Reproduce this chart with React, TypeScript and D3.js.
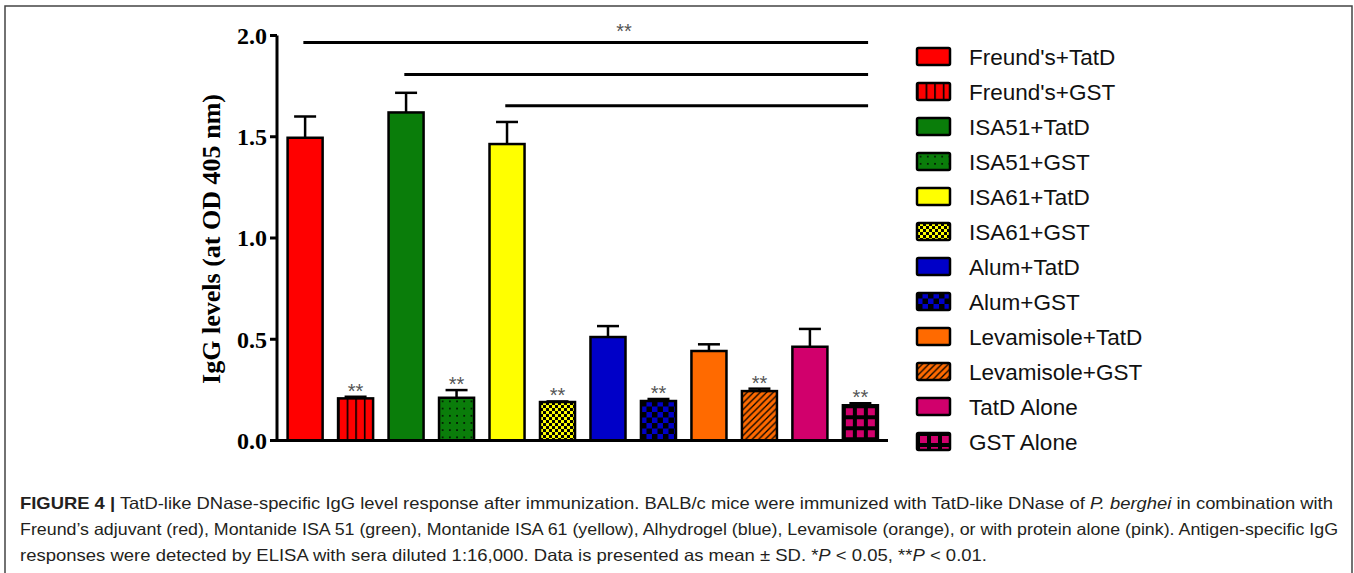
import React, { useEffect } from 'react';
import * as d3 from 'd3';

// groups in plotting order
const groups = [
  "Freund's+TatD", "Freund's+GST",
  'ISA51+TatD', 'ISA51+GST',
  'ISA61+TatD', 'ISA61+GST',
  'Alum+TatD', 'Alum+GST',
  'Levamisole+TatD', 'Levamisole+GST',
  'TatD Alone', 'GST Alone',
];
const means = [1.495, 0.208, 1.62, 0.211, 1.464, 0.19, 0.511, 0.195, 0.442, 0.244, 0.463, 0.174];
const sds = [0.105, 0.008, 0.097, 0.038, 0.109, 0.003, 0.054, 0.01, 0.033, 0.012, 0.088, 0.01];
const stars = ['', '**', '', '**', '', '**', '', '**', '', '**', '', '**'];
const colors = ['#ff0000', '#ff0000', '#0a7d0a', '#0a7d0a', '#ffff00', '#ffff00', '#0000c8', '#0000c8', '#ff6a00', '#ff6a00', '#d1006c', '#d1006c'];
const fills = ['solid', 'vlines', 'solid', 'dots', 'solid', 'finecheck', 'solid', 'check', 'solid', 'diag', 'solid', 'grid'];
const yTicks = [0, 0.5, 1.0, 1.5, 2.0];
// significance brackets: from bar index to bar index, at value
const sigLines = [
  { from: 0, to: 11, y: 1.965 },
  { from: 2, to: 11, y: 1.808 },
  { from: 4, to: 11, y: 1.653 },
];

const W = 1354;
const H = 573;

const x = d3.scaleBand<string>()
  .domain(groups)
  .range([277.5, 888])
  .paddingInner(0.306)
  .paddingOuter(0.2);
const y = d3.scaleLinear().domain([0, 2]).range([440.5, 35.5]);

const pattern = (kind: string, id: string, color: string, x0: number, y0: number) => {
  if (kind === 'vlines') {
    return (
      <pattern id={id} key={id} patternUnits="userSpaceOnUse" x={x0} y={y0} width={8.6} height={10}>
        <rect width={8.6} height={10} fill={color} />
        <rect width={1.6} height={10} fill="#000" />
      </pattern>
    );
  }
  if (kind === 'dots') {
    return (
      <pattern id={id} key={id} patternUnits="userSpaceOnUse" x={x0} y={y0} width={7.2} height={7.2}>
        <rect width={7.2} height={7.2} fill={color} />
        <circle cx={3.6} cy={3.6} r={0.9} fill="#000" />
      </pattern>
    );
  }
  if (kind === 'finecheck' || kind === 'check') {
    const c = kind === 'finecheck' ? 3 : 5.5;
    return (
      <pattern id={id} key={id} patternUnits="userSpaceOnUse" x={x0} y={y0} width={c * 2} height={c * 2}>
        <rect width={c * 2} height={c * 2} fill={color} />
        <rect width={c} height={c} fill="#000" />
        <rect x={c} y={c} width={c} height={c} fill="#000" />
      </pattern>
    );
  }
  if (kind === 'diag') {
    const s = 6.5;
    return (
      <pattern id={id} key={id} patternUnits="userSpaceOnUse" x={x0} y={y0} width={s} height={s}>
        <rect width={s} height={s} fill={color} />
        <path d={`M0,${s} L${s},0 M-1,1 L1,-1 M${s - 1},${s + 1} L${s + 1},${s - 1}`} stroke="#000" strokeWidth={1.3} />
      </pattern>
    );
  }
  // grid
  return (
    <pattern id={id} key={id} patternUnits="userSpaceOnUse" x={x0} y={y0} width={11} height={11}>
      <rect width={11} height={11} fill="#000" />
      <rect x={3} y={3} width={7} height={7} fill={color} />
    </pattern>
  );
};

const App = () => {
  useEffect(() => {
    document.body.style.margin = '0';
  }, []);

  const bw = x.bandwidth();
  const legendX = 917;
  const legendY = (i: number) => 56.5 + i * 35;

  const defs: React.ReactNode[] = [];
  groups.forEach((g, i) => {
    if (fills[i] !== 'solid') {
      const bx = x(g) as number;
      defs.push(pattern(fills[i], `bar-p-${i}`, colors[i], bx, y(means[i])));
      defs.push(pattern(fills[i], `leg-p-${i}`, colors[i], legendX, legendY(i) - 8.5));
    }
  });

  const serif = "'Liberation Serif', 'Times New Roman', serif";
  const sans = "'Liberation Sans', Arial, sans-serif";

  return (
    <svg width={W} height={H} style={{ position: 'absolute', left: 0, top: 0, background: '#fff' }}>
      <defs>{defs}</defs>
      <rect x={5} y={6} width={1347} height={580} fill="none" stroke="#444" strokeWidth={1.5} />

      {/* bars */}
      {groups.map((g, i) => {
        const bx = x(g) as number;
        const cx = bx + bw / 2;
        const top = y(means[i] + sds[i]);
        return (
          <g key={g}>
            <line x1={cx} x2={cx} y1={y(means[i])} y2={top} stroke="#000" strokeWidth={2.5} />
            <line x1={cx - 11} x2={cx + 11} y1={top} y2={top} stroke="#000" strokeWidth={2.5} />
            <rect
              x={bx}
              y={y(means[i])}
              width={bw}
              height={y(0) - y(means[i])}
              fill={fills[i] === 'solid' ? colors[i] : `url(#bar-p-${i})`}
              stroke="#000"
              strokeWidth={2.5}
            />
            {stars[i] && (
              <text x={cx} y={top + 1} textAnchor="middle" fontFamily={sans} fontSize={20} fill="#555">
                {stars[i]}
              </text>
            )}
          </g>
        );
      })}

      {/* significance lines */}
      {sigLines.map((s, i) => (
        <line
          key={i}
          x1={(x(groups[s.from]) as number) + bw * 0.45}
          x2={(x(groups[s.to]) as number) + bw * 0.72}
          y1={y(s.y)}
          y2={y(s.y)}
          stroke="#000"
          strokeWidth={3}
        />
      ))}
      <text x={624} y={38} textAnchor="middle" fontFamily={sans} fontSize={20} fill="#555">**</text>

      {/* axes */}
      <line x1={277} x2={277} y1={y(2)} y2={y(0) + 1.5} stroke="#000" strokeWidth={3} />
      <line x1={275.5} x2={888} y1={y(0)} y2={y(0)} stroke="#000" strokeWidth={3} />
      {yTicks.map((t) => (
        <g key={t}>
          <line x1={270} x2={277} y1={y(t)} y2={y(t)} stroke="#000" strokeWidth={3} />
          <text x={267} y={y(t)} dy="0.35em" textAnchor="end" fontFamily={serif} fontWeight="bold" fontSize={24}>
            {d3.format('.1f')(t)}
          </text>
        </g>
      ))}
      <text
        transform={`translate(220, ${(y(0) + y(2)) / 2 + 1}) rotate(-90)`}
        textAnchor="middle"
        fontFamily={serif}
        fontWeight="bold"
        fontSize={25}
        textLength={290}
        lengthAdjust="spacingAndGlyphs"
      >
        IgG levels (at OD 405 nm)
      </text>

      {/* legend */}
      {groups.map((g, i) => (
        <g key={g}>
          <rect
            x={legendX}
            y={legendY(i) - 8.5}
            width={33}
            height={17}
            rx={1.5}
            fill={fills[i] === 'solid' ? colors[i] : `url(#leg-p-${i})`}
            stroke="#000"
            strokeWidth={2.5}
          />
          <text x={969} y={legendY(i)} dy="0.36em" fontFamily={sans} fontSize={22.5} fill="#111">
            {g}
          </text>
        </g>
      ))}

      {/* caption */}
      <g fontFamily={sans} fontSize={16.5} fill="#231f20">
        <text x={20} y={509} textLength={1313} lengthAdjust="spacingAndGlyphs">
          <tspan fontWeight="bold">FIGURE 4 |</tspan> TatD-like DNase-specific IgG level response after immunization. BALB/c mice were immunized with TatD-like DNase of <tspan fontStyle="italic">P. berghei</tspan> in combination with
        </text>
        <text x={20} y={535} textLength={1318} lengthAdjust="spacingAndGlyphs">
          Freund’s adjuvant (red), Montanide ISA 51 (green), Montanide ISA 61 (yellow), Alhydrogel (blue), Levamisole (orange), or with protein alone (pink). Antigen-specific IgG
        </text>
        <text x={20} y={561} textLength={967} lengthAdjust="spacingAndGlyphs">
          responses were detected by ELISA with sera diluted 1:16,000. Data is presented as mean ± SD. *<tspan fontStyle="italic">P</tspan> {'<'} 0.05, **<tspan fontStyle="italic">P</tspan> {'<'} 0.01.
        </text>
      </g>
    </svg>
  );
};

export default App;
